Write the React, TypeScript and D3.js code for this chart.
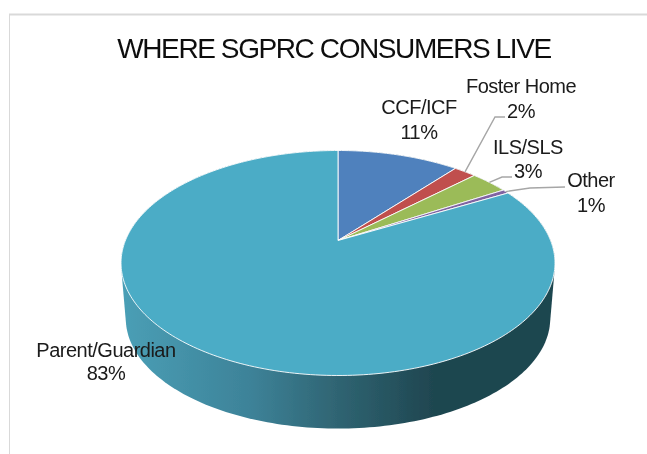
import React from "react";
import * as d3 from "d3";

const categories = ["CCF/ICF", "Foster Home", "ILS/SLS", "Other", "Parent/Guardian"];
const values = [11, 2, 3.4, 0.6, 83];
const percentLabels = ["11%", "2%", "3%", "1%", "83%"];
const colors = ["#4f81bd", "#c0504d", "#9bbb59", "#8064a2", "#4bacc6"];
const titleText = "WHERE SGPRC CONSUMERS LIVE";

const W = 647, H = 454;
const cx = 338, cy = 240.5;
const a = 212.6, b = 108, k = 0.2;
const drop = 56, shrink = 0.978;

// perspective projection of a unit-circle point onto the tilted pie
function project(angle: number, z = 0): [number, number] {
  const x = Math.sin(angle), y = -Math.cos(angle);
  const d = 1 - k * y;
  const s = z ? shrink : 1;
  return [cx + (a * x / d) * s, cy + z * drop + (b * y / d) * s];
}

const pieGen = d3.pie<number>().sort(null).startAngle(0).endAngle(2 * Math.PI);
const arcs = pieGen(values);
const line = d3.line();

function slicePath(s: number, e: number) {
  const n = Math.max(2, Math.ceil((e - s) / 0.02));
  const pts = d3.range(n + 1).map((i) => project(s + ((e - s) * i) / n));
  return line([[cx, cy], ...pts])! + "Z";
}

const ring = d3.range(0, 2 * Math.PI, 0.02);
const hull = d3.polygonHull([...ring.map((t) => project(t, 0)), ...ring.map((t) => project(t, 1))])!;
const sidePath = line(hull)! + "Z";

type Lab = { i: number; x: number; y1: number; y2: number; lead?: [number, number][] };
const labels: Lab[] = [
  { i: 0, x: 419, y1: 114, y2: 139 },
  { i: 1, x: 521, y1: 93, y2: 118, lead: [[495, 117], [505, 117]] },
  { i: 2, x: 528, y1: 154, y2: 178, lead: [[502, 177], [512, 177]] },
  { i: 3, x: 591, y1: 187, y2: 212, lead: [[530, 188], [565, 187]] },
  { i: 4, x: 106, y1: 357, y2: 380 },
];

export default function App() {
  return (
    <svg width={W} height={H} style={{ position: "absolute", left: 0, top: 0, fontFamily: "'Liberation Sans', Arial, sans-serif" }}>
      <defs>
        <linearGradient id="side" gradientUnits="userSpaceOnUse" x1={121} x2={555} y1={0} y2={0}>
          <stop offset="0" stopColor="#4a9fb6" />
          <stop offset="0.3" stopColor="#3d8298" />
          <stop offset="0.5" stopColor="#2f6472" />
          <stop offset="0.72" stopColor="#1f4650" />
          <stop offset="1" stopColor="#1f4650" />
        </linearGradient>
        <filter id="soft" x="-5%" y="-5%" width="110%" height="110%">
          <feGaussianBlur stdDeviation="0.5" />
        </filter>
      </defs>
      <rect width={W} height={H} fill="#ffffff" />
      <path d="M9.5,454V14.5H647" fill="none" stroke="#d9d9d9" strokeWidth={1} />
      <path d="M9,14.5H647" fill="none" stroke="#d9d9d9" strokeWidth={2} />
      <g filter="url(#soft)">
        <path d={sidePath} fill="url(#side)" />
        {arcs.map((d, i) => (
          <path key={i} d={slicePath(d.startAngle, d.endAngle)} fill={colors[i]} stroke="#ffffff" strokeWidth={0.9} strokeLinejoin="round" />
        ))}
        {labels.filter((l) => l.lead).map((l) => {
          const mid = (arcs[l.i].startAngle + arcs[l.i].endAngle) / 2;
          return <path key={l.i} d={line([project(mid), ...l.lead!])!} fill="none" stroke="#a6a6a6" strokeWidth={1.4} />;
        })}
        <text x={334} y={58} textAnchor="middle" fontSize={28} letterSpacing={-1.4} fill="#0d0d0d">{titleText}</text>
        {labels.map((l) => (
          <g key={l.i} textAnchor="middle" fontSize={20} letterSpacing={-0.5} fill="#1a1a1a">
            <text x={l.x} y={l.y1}>{categories[l.i]}</text>
            <text x={l.x} y={l.y2}>{percentLabels[l.i]}</text>
          </g>
        ))}
      </g>
    </svg>
  );
}
